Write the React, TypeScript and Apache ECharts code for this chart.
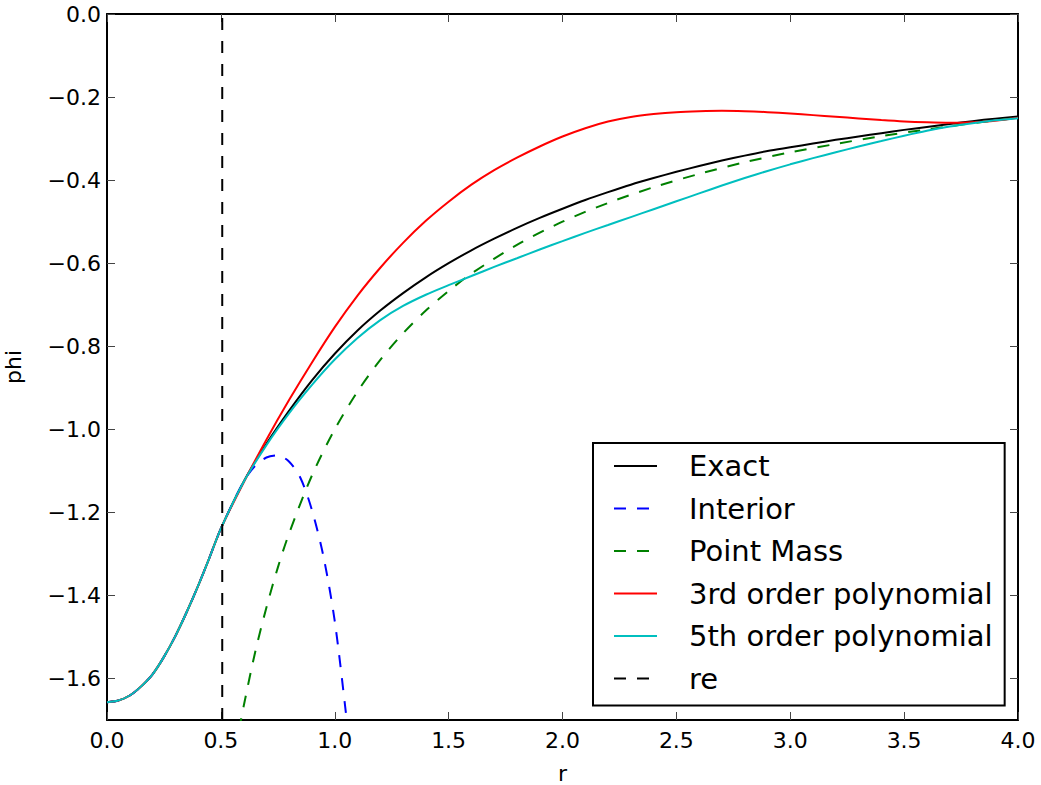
import React, { useEffect, useRef } from "react";
import * as echarts from "echarts";

// ---- data ----
// inner part (r < 0.5), where all model curves coincide
const innerRadius = [0, 0.05, 0.1, 0.15, 0.2, 0.25, 0.3, 0.35, 0.4, 0.45];
const innerPhi = [-1.657, -1.653, -1.641, -1.619, -1.590, -1.548, -1.498, -1.440, -1.377, -1.309];

// outer part, r = 0.5 ... 4.0
const outerRadius = [
  0.5, 0.6, 0.7, 0.8, 0.9, 1.0,
  1.1, 1.2, 1.3, 1.4, 1.5, 1.6, 1.7, 1.8, 1.9, 2.0,
  2.1, 2.2, 2.3, 2.4, 2.5, 2.6, 2.7, 2.8, 2.9, 3.0,
  3.1, 3.2, 3.3, 3.4, 3.5, 3.6, 3.7, 3.8, 3.9, 4.0,
];
const exact = [
  -1.239, -1.126, -1.035, -0.955, -0.882, -0.818,
  -0.762, -0.714, -0.672, -0.634, -0.600, -0.569, -0.541, -0.515, -0.491, -0.469,
  -0.448, -0.429, -0.411, -0.395, -0.380, -0.366, -0.353, -0.341, -0.330, -0.321,
  -0.312, -0.303, -0.295, -0.287, -0.279, -0.272, -0.265, -0.258, -0.252, -0.247,
];
const cubic = [
  -1.239, -1.128, -1.025, -0.929, -0.839, -0.754,
  -0.678, -0.611, -0.551, -0.498, -0.452, -0.411, -0.376, -0.346, -0.319, -0.295,
  -0.275, -0.259, -0.248, -0.241, -0.2363, -0.234, -0.2329, -0.234, -0.2363, -0.2395,
  -0.2435, -0.2475, -0.2515, -0.2555, -0.2588, -0.2608, -0.2618, -0.2606, -0.257, -0.2498,
];
const quintic = [
  -1.239, -1.127, -1.038, -0.961, -0.893, -0.832,
  -0.780, -0.737, -0.703, -0.676, -0.653, -0.631, -0.609, -0.588, -0.567, -0.547,
  -0.527, -0.508, -0.489, -0.470, -0.451, -0.432, -0.413, -0.395, -0.378, -0.362,
  -0.347, -0.333, -0.319, -0.306, -0.293, -0.281, -0.271, -0.263, -0.256, -0.251,
];
const interiorRadius = [0.5, 0.6, 0.65, 0.7, 0.75, 0.8, 0.85, 0.9, 0.95, 1.0, 1.05, 1.07];
const interior = [-1.239, -1.126, -1.088, -1.068, -1.063, -1.078, -1.118, -1.195, -1.305, -1.462, -1.688, -1.79];
const pointMassRadius = [
  0.58, 0.6, 0.65, 0.7, 0.75, 0.8, 0.9, 1.0, 1.1, 1.2, 1.3, 1.4, 1.5, 1.6, 1.8,
  2.0, 2.2, 2.4, 2.6, 2.8, 3.0, 3.2, 3.4, 3.6, 3.8, 4.0,
];
const pointMass = [
  -1.724, -1.667, -1.538, -1.429, -1.333, -1.25, -1.111, -1.0, -0.909, -0.833, -0.769,
  -0.714, -0.667, -0.625, -0.556, -0.5, -0.455, -0.417, -0.385, -0.357, -0.333,
  -0.313, -0.294, -0.278, -0.263, -0.25,
];
const reRadius = [0.506, 0.506];
const reSpan = [-1.7, 0];
const yTicks = [-1.6, -1.4, -1.2, -1.0, -0.8, -0.6, -0.4, -0.2, 0.0];

const seriesNames = ["Exact", "Interior", "Point Mass", "3rd order polynomial", "5th order polynomial", "re"];

const FONT = "DejaVu Sans";
const zip = (xs: number[], ys: number[]) => xs.map((x, i) => [x, ys[i]]);
const withInner = (xs: number[], ys: number[]) => [...zip(innerRadius, innerPhi), ...zip(xs, ys)];
const fmt = (v: number) => (Math.abs(v) < 1e-9 ? "0.0" : v.toFixed(1).replace("-", "\u2212"));

export default function App() {
  const ref = useRef<HTMLDivElement>(null);
  useEffect(() => {
    if (!ref.current) return;
    const chart = echarts.init(ref.current, undefined, { renderer: "svg" });
    const dash = [12, 11];
    const line = (name: string, data: number[][], color: string, dashed: boolean) => ({
      name,
      type: "line",
      data,
      symbol: "none",
      smooth: 0.3,
      clip: true,
      itemStyle: { color },
      lineStyle: { color, width: 2, type: dashed ? dash : "solid" },
    });
    const axisLine = { show: true, onZero: false, lineStyle: { color: "#000", width: 2 } };
    const tick = { show: true, inside: true, length: 8, lineStyle: { color: "#444", width: 1 } };
    chart.setOption({
      animation: false,
      backgroundColor: "#fff",
      grid: { left: 107, right: 23, top: 14, bottom: 65, containLabel: false, outerBoundsMode: "none" },
      legend: {
        orient: "vertical",
        left: 593,
        top: 443,
        data: seriesNames,
        backgroundColor: "#fff",
        borderColor: "#000",
        borderWidth: 2,
        borderRadius: 0,
        padding: [8, 12, 12, 20],
        itemWidth: 43,
        itemHeight: 14,
        itemGap: 12.5,
        selectedMode: false,
        itemStyle: { color: "rgba(0,0,0,0)", borderWidth: 0 },
        textStyle: { fontFamily: FONT, fontSize: 29, color: "#000", lineHeight: 30, padding: [0, 0, 0, 27] },
      },
      xAxis: [
        {
          type: "value", min: 0, max: 4, interval: 0.5, position: "bottom",
          axisLine, axisTick: tick, splitLine: { show: false },
          axisLabel: { formatter: fmt, fontFamily: FONT, fontSize: 22, color: "#000", margin: 9 },
          name: "r", nameLocation: "middle", nameGap: 42,
          nameTextStyle: { fontFamily: FONT, fontSize: 22, color: "#000" },
        },
        {
          type: "value", min: 0, max: 4, interval: 0.5, position: "top",
          axisLine, axisTick: tick, splitLine: { show: false }, axisLabel: { show: false },
        },
      ],
      yAxis: [
        {
          type: "value", min: -1.7, max: 0, position: "left",
          axisLine, axisTick: { ...tick, customValues: yTicks }, splitLine: { show: false },
          axisLabel: { customValues: yTicks, formatter: fmt, fontFamily: FONT, fontSize: 22, color: "#000", margin: 6 },
          name: "phi", nameLocation: "middle", nameGap: 83,
          nameTextStyle: { fontFamily: FONT, fontSize: 22, color: "#000" },
        },
        {
          type: "value", min: -1.7, max: 0, position: "right",
          axisLine, axisTick: { ...tick, customValues: yTicks }, splitLine: { show: false },
          axisLabel: { show: false },
        },
      ],
      series: [
        line(seriesNames[0], withInner(outerRadius, exact), "#000000", false),
        line(seriesNames[1], withInner(interiorRadius, interior), "#0000ff", true),
        line(seriesNames[2], zip(pointMassRadius, pointMass), "#008000", true),
        line(seriesNames[3], withInner(outerRadius, cubic), "#ff0000", false),
        line(seriesNames[4], withInner(outerRadius, quintic), "#00bfbf", false),
        { ...line(seriesNames[5], zip(reRadius, reSpan), "#000000", true), smooth: false },
      ],
    });
    return () => chart.dispose();
  }, []);
  return <div ref={ref} style={{ position: "fixed", left: 0, top: 0, width: 1041, height: 785 }} />;
}
